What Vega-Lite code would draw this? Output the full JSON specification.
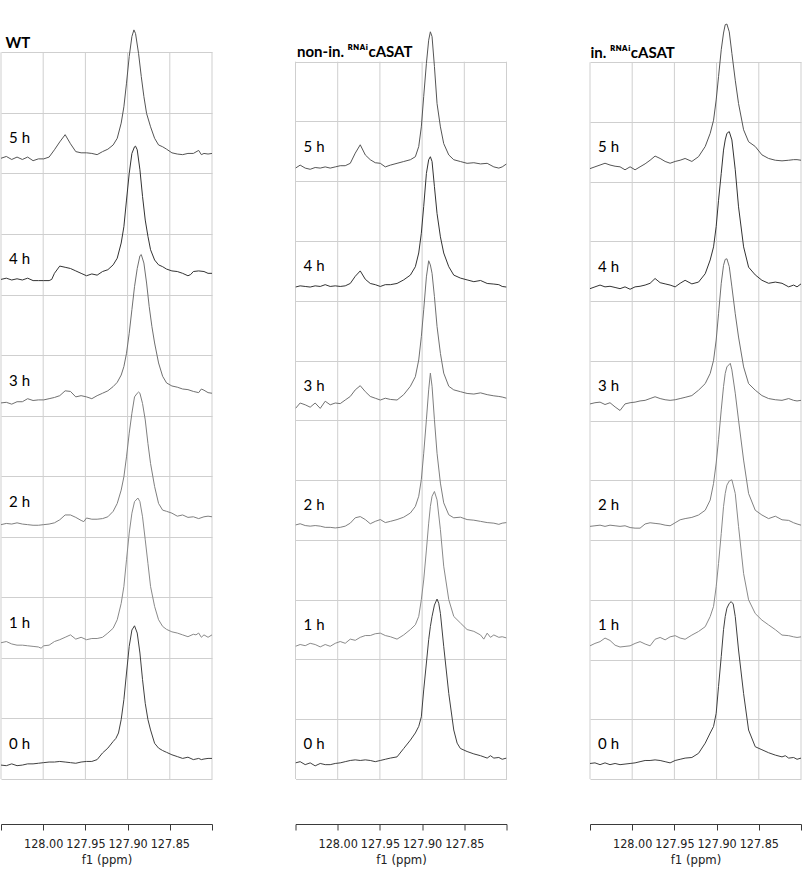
{
"$schema": "https://vega.github.io/schema/vega-lite/v6.json",
"padding": 0,
"background": "white",
"spacing": 83.5,
"bounds": "flush",
"datasets": {
"gridlines": [{"ppm":128.05},{"ppm":128.0},{"ppm":127.95},{"ppm":127.9},{"ppm":127.85},{"ppm":127.8}],
"labels": [{"hour":0,"label":"0 h"},{"hour":1,"label":"1 h"},{"hour":2,"label":"2 h"},{"hour":3,"label":"3 h"},{"hour":4,"label":"4 h"},{"hour":5,"label":"5 h"}],
"WT": [
{"hour":5,"ppm":128.05,"intensity":10.25},{"hour":5,"ppm":128.0437,"intensity":10.28},{"hour":5,"ppm":128.0373,"intensity":10.23},{"hour":5,"ppm":128.031,"intensity":10.27},{"hour":5,"ppm":128.0247,"intensity":10.23},{"hour":5,"ppm":128.0184,"intensity":10.27},{"hour":5,"ppm":128.012,"intensity":10.21},{"hour":5,"ppm":128.0057,"intensity":10.24},{"hour":5,"ppm":127.9994,"intensity":10.24},{"hour":5,"ppm":127.993,"intensity":10.27},{"hour":5,"ppm":127.9867,"intensity":10.39},{"hour":5,"ppm":127.9804,"intensity":10.52},{"hour":5,"ppm":127.974,"intensity":10.64},{"hour":5,"ppm":127.9677,"intensity":10.49},{"hour":5,"ppm":127.9614,"intensity":10.36},{"hour":5,"ppm":127.9551,"intensity":10.34},{"hour":5,"ppm":127.9487,"intensity":10.34},{"hour":5,"ppm":127.9424,"intensity":10.33},{"hour":5,"ppm":127.9361,"intensity":10.31},{"hour":5,"ppm":127.9297,"intensity":10.36},{"hour":5,"ppm":127.9234,"intensity":10.4},{"hour":5,"ppm":127.9171,"intensity":10.47},{"hour":5,"ppm":127.9123,"intensity":10.58},{"hour":5,"ppm":127.9076,"intensity":10.83},{"hour":5,"ppm":127.9044,"intensity":11.1},{"hour":5,"ppm":127.9013,"intensity":11.49},{"hour":5,"ppm":127.8981,"intensity":11.93},{"hour":5,"ppm":127.8949,"intensity":12.26},{"hour":5,"ppm":127.8925,"intensity":12.37},{"hour":5,"ppm":127.8906,"intensity":12.31},{"hour":5,"ppm":127.887,"intensity":11.98},{"hour":5,"ppm":127.8838,"intensity":11.6},{"hour":5,"ppm":127.8807,"intensity":11.27},{"hour":5,"ppm":127.8775,"intensity":10.99},{"hour":5,"ppm":127.8728,"intensity":10.77},{"hour":5,"ppm":127.868,"intensity":10.58},{"hour":5,"ppm":127.8633,"intensity":10.47},{"hour":5,"ppm":127.8585,"intensity":10.44},{"hour":5,"ppm":127.8538,"intensity":10.4},{"hour":5,"ppm":127.8475,"intensity":10.34},{"hour":5,"ppm":127.8411,"intensity":10.32},{"hour":5,"ppm":127.8348,"intensity":10.31},{"hour":5,"ppm":127.8285,"intensity":10.33},{"hour":5,"ppm":127.8221,"intensity":10.33},{"hour":5,"ppm":127.8158,"intensity":10.38},{"hour":5,"ppm":127.8126,"intensity":10.31},{"hour":5,"ppm":127.8095,"intensity":10.33},{"hour":5,"ppm":127.8047,"intensity":10.32},{"hour":5,"ppm":127.8,"intensity":10.33},
{"hour":4,"ppm":128.05,"intensity":8.25},{"hour":4,"ppm":128.0437,"intensity":8.27},{"hour":4,"ppm":128.0373,"intensity":8.24},{"hour":4,"ppm":128.031,"intensity":8.26},{"hour":4,"ppm":128.0247,"intensity":8.24},{"hour":4,"ppm":128.0184,"intensity":8.27},{"hour":4,"ppm":128.012,"intensity":8.23},{"hour":4,"ppm":128.0057,"intensity":8.23},{"hour":4,"ppm":127.9994,"intensity":8.23},{"hour":4,"ppm":127.993,"intensity":8.23},{"hour":4,"ppm":127.9899,"intensity":8.25},{"hour":4,"ppm":127.9867,"intensity":8.35},{"hour":4,"ppm":127.9804,"intensity":8.47},{"hour":4,"ppm":127.974,"intensity":8.45},{"hour":4,"ppm":127.9677,"intensity":8.43},{"hour":4,"ppm":127.9614,"intensity":8.39},{"hour":4,"ppm":127.9551,"intensity":8.35},{"hour":4,"ppm":127.9487,"intensity":8.31},{"hour":4,"ppm":127.9424,"intensity":8.34},{"hour":4,"ppm":127.9361,"intensity":8.32},{"hour":4,"ppm":127.9297,"intensity":8.38},{"hour":4,"ppm":127.9234,"intensity":8.41},{"hour":4,"ppm":127.9171,"intensity":8.49},{"hour":4,"ppm":127.9123,"intensity":8.6},{"hour":4,"ppm":127.9076,"intensity":8.85},{"hour":4,"ppm":127.9044,"intensity":9.12},{"hour":4,"ppm":127.9013,"intensity":9.56},{"hour":4,"ppm":127.8981,"intensity":10.0},{"hour":4,"ppm":127.8949,"intensity":10.33},{"hour":4,"ppm":127.8918,"intensity":10.44},{"hour":4,"ppm":127.8906,"intensity":10.45},{"hour":4,"ppm":127.8886,"intensity":10.39},{"hour":4,"ppm":127.8854,"intensity":10.06},{"hour":4,"ppm":127.8823,"intensity":9.62},{"hour":4,"ppm":127.8791,"intensity":9.23},{"hour":4,"ppm":127.8759,"intensity":8.96},{"hour":4,"ppm":127.8728,"intensity":8.74},{"hour":4,"ppm":127.868,"intensity":8.57},{"hour":4,"ppm":127.8633,"intensity":8.49},{"hour":4,"ppm":127.8585,"intensity":8.46},{"hour":4,"ppm":127.8538,"intensity":8.42},{"hour":4,"ppm":127.8475,"intensity":8.39},{"hour":4,"ppm":127.8411,"intensity":8.38},{"hour":4,"ppm":127.8348,"intensity":8.35},{"hour":4,"ppm":127.8285,"intensity":8.31},{"hour":4,"ppm":127.8253,"intensity":8.33},{"hour":4,"ppm":127.8221,"intensity":8.38},{"hour":4,"ppm":127.8158,"intensity":8.39},{"hour":4,"ppm":127.8095,"intensity":8.38},{"hour":4,"ppm":127.8047,"intensity":8.35},{"hour":4,"ppm":127.8,"intensity":8.35},
{"hour":3,"ppm":128.05,"intensity":6.21},{"hour":3,"ppm":128.0437,"intensity":6.22},{"hour":3,"ppm":128.0373,"intensity":6.19},{"hour":3,"ppm":128.031,"intensity":6.23},{"hour":3,"ppm":128.0247,"intensity":6.23},{"hour":3,"ppm":128.0184,"intensity":6.28},{"hour":3,"ppm":128.012,"intensity":6.25},{"hour":3,"ppm":128.0057,"intensity":6.26},{"hour":3,"ppm":127.9994,"intensity":6.26},{"hour":3,"ppm":127.993,"intensity":6.28},{"hour":3,"ppm":127.9867,"intensity":6.3},{"hour":3,"ppm":127.9804,"intensity":6.33},{"hour":3,"ppm":127.974,"intensity":6.41},{"hour":3,"ppm":127.9677,"intensity":6.4},{"hour":3,"ppm":127.9614,"intensity":6.31},{"hour":3,"ppm":127.9551,"intensity":6.33},{"hour":3,"ppm":127.9487,"intensity":6.31},{"hour":3,"ppm":127.9424,"intensity":6.28},{"hour":3,"ppm":127.9361,"intensity":6.33},{"hour":3,"ppm":127.9297,"intensity":6.37},{"hour":3,"ppm":127.9234,"intensity":6.41},{"hour":3,"ppm":127.9171,"intensity":6.48},{"hour":3,"ppm":127.9123,"intensity":6.55},{"hour":3,"ppm":127.9076,"intensity":6.67},{"hour":3,"ppm":127.9044,"intensity":6.81},{"hour":3,"ppm":127.9013,"intensity":7.03},{"hour":3,"ppm":127.8981,"intensity":7.36},{"hour":3,"ppm":127.8949,"intensity":7.75},{"hour":3,"ppm":127.8918,"intensity":8.13},{"hour":3,"ppm":127.8886,"intensity":8.43},{"hour":3,"ppm":127.8854,"intensity":8.64},{"hour":3,"ppm":127.8838,"intensity":8.66},{"hour":3,"ppm":127.8807,"intensity":8.52},{"hour":3,"ppm":127.8775,"intensity":8.19},{"hour":3,"ppm":127.8744,"intensity":7.8},{"hour":3,"ppm":127.8712,"intensity":7.47},{"hour":3,"ppm":127.868,"intensity":7.2},{"hour":3,"ppm":127.8633,"intensity":6.87},{"hour":3,"ppm":127.8585,"intensity":6.65},{"hour":3,"ppm":127.8538,"intensity":6.54},{"hour":3,"ppm":127.8475,"intensity":6.49},{"hour":3,"ppm":127.8411,"intensity":6.47},{"hour":3,"ppm":127.8348,"intensity":6.44},{"hour":3,"ppm":127.8285,"intensity":6.43},{"hour":3,"ppm":127.8221,"intensity":6.4},{"hour":3,"ppm":127.8158,"intensity":6.38},{"hour":3,"ppm":127.8126,"intensity":6.44},{"hour":3,"ppm":127.8095,"intensity":6.42},{"hour":3,"ppm":127.8047,"intensity":6.38},{"hour":3,"ppm":127.8,"intensity":6.37},
{"hour":2,"ppm":128.05,"intensity":4.2},{"hour":2,"ppm":128.0437,"intensity":4.22},{"hour":2,"ppm":128.0373,"intensity":4.21},{"hour":2,"ppm":128.031,"intensity":4.23},{"hour":2,"ppm":128.0247,"intensity":4.21},{"hour":2,"ppm":128.0184,"intensity":4.2},{"hour":2,"ppm":128.012,"intensity":4.19},{"hour":2,"ppm":128.0057,"intensity":4.19},{"hour":2,"ppm":127.9994,"intensity":4.2},{"hour":2,"ppm":127.993,"intensity":4.21},{"hour":2,"ppm":127.9867,"intensity":4.23},{"hour":2,"ppm":127.9804,"intensity":4.28},{"hour":2,"ppm":127.974,"intensity":4.36},{"hour":2,"ppm":127.9677,"intensity":4.36},{"hour":2,"ppm":127.9614,"intensity":4.32},{"hour":2,"ppm":127.9551,"intensity":4.27},{"hour":2,"ppm":127.9519,"intensity":4.25},{"hour":2,"ppm":127.9487,"intensity":4.31},{"hour":2,"ppm":127.9424,"intensity":4.29},{"hour":2,"ppm":127.9361,"intensity":4.29},{"hour":2,"ppm":127.9297,"intensity":4.3},{"hour":2,"ppm":127.9234,"intensity":4.33},{"hour":2,"ppm":127.9171,"intensity":4.42},{"hour":2,"ppm":127.9123,"intensity":4.55},{"hour":2,"ppm":127.9076,"intensity":4.77},{"hour":2,"ppm":127.9044,"intensity":4.99},{"hour":2,"ppm":127.9013,"intensity":5.32},{"hour":2,"ppm":127.8981,"intensity":5.71},{"hour":2,"ppm":127.8949,"intensity":6.04},{"hour":2,"ppm":127.8918,"intensity":6.31},{"hour":2,"ppm":127.8886,"intensity":6.37},{"hour":2,"ppm":127.887,"intensity":6.39},{"hour":2,"ppm":127.8854,"intensity":6.37},{"hour":2,"ppm":127.8823,"intensity":6.2},{"hour":2,"ppm":127.8791,"intensity":5.93},{"hour":2,"ppm":127.8759,"intensity":5.54},{"hour":2,"ppm":127.8728,"intensity":5.21},{"hour":2,"ppm":127.868,"intensity":4.83},{"hour":2,"ppm":127.8633,"intensity":4.55},{"hour":2,"ppm":127.8585,"intensity":4.44},{"hour":2,"ppm":127.8538,"intensity":4.42},{"hour":2,"ppm":127.8475,"intensity":4.39},{"hour":2,"ppm":127.8411,"intensity":4.34},{"hour":2,"ppm":127.8348,"intensity":4.36},{"hour":2,"ppm":127.8285,"intensity":4.32},{"hour":2,"ppm":127.8221,"intensity":4.33},{"hour":2,"ppm":127.8158,"intensity":4.3},{"hour":2,"ppm":127.8095,"intensity":4.33},{"hour":2,"ppm":127.8047,"intensity":4.34},{"hour":2,"ppm":127.8,"intensity":4.33},
{"hour":1,"ppm":128.05,"intensity":2.25},{"hour":1,"ppm":128.0437,"intensity":2.27},{"hour":1,"ppm":128.0373,"intensity":2.23},{"hour":1,"ppm":128.031,"intensity":2.21},{"hour":1,"ppm":128.0247,"intensity":2.21},{"hour":1,"ppm":128.0184,"intensity":2.2},{"hour":1,"ppm":128.012,"intensity":2.19},{"hour":1,"ppm":128.0057,"intensity":2.18},{"hour":1,"ppm":128.0025,"intensity":2.16},{"hour":1,"ppm":127.9994,"intensity":2.2},{"hour":1,"ppm":127.993,"intensity":2.21},{"hour":1,"ppm":127.9867,"intensity":2.27},{"hour":1,"ppm":127.9804,"intensity":2.3},{"hour":1,"ppm":127.974,"intensity":2.34},{"hour":1,"ppm":127.9677,"intensity":2.38},{"hour":1,"ppm":127.9614,"intensity":2.31},{"hour":1,"ppm":127.9551,"intensity":2.34},{"hour":1,"ppm":127.9487,"intensity":2.3},{"hour":1,"ppm":127.9424,"intensity":2.32},{"hour":1,"ppm":127.9361,"intensity":2.32},{"hour":1,"ppm":127.9297,"intensity":2.34},{"hour":1,"ppm":127.9234,"intensity":2.41},{"hour":1,"ppm":127.9171,"intensity":2.49},{"hour":1,"ppm":127.9123,"intensity":2.63},{"hour":1,"ppm":127.9076,"intensity":2.9},{"hour":1,"ppm":127.9044,"intensity":3.18},{"hour":1,"ppm":127.9013,"intensity":3.62},{"hour":1,"ppm":127.8981,"intensity":4.06},{"hour":1,"ppm":127.8949,"intensity":4.39},{"hour":1,"ppm":127.8918,"intensity":4.58},{"hour":1,"ppm":127.8878,"intensity":4.64},{"hour":1,"ppm":127.8854,"intensity":4.58},{"hour":1,"ppm":127.8823,"intensity":4.33},{"hour":1,"ppm":127.8791,"intensity":3.95},{"hour":1,"ppm":127.8759,"intensity":3.56},{"hour":1,"ppm":127.8728,"intensity":3.18},{"hour":1,"ppm":127.868,"intensity":2.85},{"hour":1,"ppm":127.8633,"intensity":2.63},{"hour":1,"ppm":127.8585,"intensity":2.52},{"hour":1,"ppm":127.8538,"intensity":2.47},{"hour":1,"ppm":127.8475,"intensity":2.43},{"hour":1,"ppm":127.8411,"intensity":2.41},{"hour":1,"ppm":127.8348,"intensity":2.38},{"hour":1,"ppm":127.8285,"intensity":2.35},{"hour":1,"ppm":127.8221,"intensity":2.39},{"hour":1,"ppm":127.819,"intensity":2.38},{"hour":1,"ppm":127.8158,"intensity":2.41},{"hour":1,"ppm":127.8126,"intensity":2.34},{"hour":1,"ppm":127.8095,"intensity":2.38},{"hour":1,"ppm":127.8047,"intensity":2.34},{"hour":1,"ppm":127.8,"intensity":2.38},
{"hour":0,"ppm":128.05,"intensity":0.23},{"hour":0,"ppm":128.0437,"intensity":0.22},{"hour":0,"ppm":128.0373,"intensity":0.25},{"hour":0,"ppm":128.031,"intensity":0.22},{"hour":0,"ppm":128.0247,"intensity":0.23},{"hour":0,"ppm":128.0184,"intensity":0.25},{"hour":0,"ppm":128.012,"intensity":0.25},{"hour":0,"ppm":128.0057,"intensity":0.26},{"hour":0,"ppm":127.9994,"intensity":0.27},{"hour":0,"ppm":127.993,"intensity":0.28},{"hour":0,"ppm":127.9867,"intensity":0.28},{"hour":0,"ppm":127.9804,"intensity":0.29},{"hour":0,"ppm":127.974,"intensity":0.28},{"hour":0,"ppm":127.9677,"intensity":0.27},{"hour":0,"ppm":127.9614,"intensity":0.26},{"hour":0,"ppm":127.9551,"intensity":0.28},{"hour":0,"ppm":127.9487,"intensity":0.29},{"hour":0,"ppm":127.9424,"intensity":0.29},{"hour":0,"ppm":127.9361,"intensity":0.32},{"hour":0,"ppm":127.9297,"intensity":0.43},{"hour":0,"ppm":127.9234,"intensity":0.51},{"hour":0,"ppm":127.9171,"intensity":0.62},{"hour":0,"ppm":127.9139,"intensity":0.67},{"hour":0,"ppm":127.9108,"intensity":0.76},{"hour":0,"ppm":127.9076,"intensity":0.98},{"hour":0,"ppm":127.9044,"intensity":1.31},{"hour":0,"ppm":127.9013,"intensity":1.75},{"hour":0,"ppm":127.8981,"intensity":2.19},{"hour":0,"ppm":127.8949,"intensity":2.46},{"hour":0,"ppm":127.8918,"intensity":2.53},{"hour":0,"ppm":127.8886,"intensity":2.41},{"hour":0,"ppm":127.8854,"intensity":2.08},{"hour":0,"ppm":127.8823,"intensity":1.64},{"hour":0,"ppm":127.8791,"intensity":1.25},{"hour":0,"ppm":127.8759,"intensity":0.98},{"hour":0,"ppm":127.8728,"intensity":0.81},{"hour":0,"ppm":127.868,"intensity":0.59},{"hour":0,"ppm":127.8633,"intensity":0.51},{"hour":0,"ppm":127.8585,"intensity":0.47},{"hour":0,"ppm":127.8538,"intensity":0.44},{"hour":0,"ppm":127.8475,"intensity":0.4},{"hour":0,"ppm":127.8411,"intensity":0.37},{"hour":0,"ppm":127.8348,"intensity":0.34},{"hour":0,"ppm":127.8285,"intensity":0.36},{"hour":0,"ppm":127.8221,"intensity":0.32},{"hour":0,"ppm":127.8158,"intensity":0.34},{"hour":0,"ppm":127.8126,"intensity":0.32},{"hour":0,"ppm":127.8095,"intensity":0.33},{"hour":0,"ppm":127.8047,"intensity":0.34},{"hour":0,"ppm":127.8,"intensity":0.34}
],
"NON": [
{"hour":5,"ppm":128.05,"intensity":10.22},{"hour":5,"ppm":128.0445,"intensity":10.27},{"hour":5,"ppm":128.0385,"intensity":10.22},{"hour":5,"ppm":128.0326,"intensity":10.2},{"hour":5,"ppm":128.0267,"intensity":10.23},{"hour":5,"ppm":128.0207,"intensity":10.22},{"hour":5,"ppm":128.0148,"intensity":10.24},{"hour":5,"ppm":128.0089,"intensity":10.22},{"hour":5,"ppm":128.0029,"intensity":10.24},{"hour":5,"ppm":127.997,"intensity":10.26},{"hour":5,"ppm":127.9911,"intensity":10.26},{"hour":5,"ppm":127.9851,"intensity":10.3},{"hour":5,"ppm":127.9792,"intensity":10.47},{"hour":5,"ppm":127.9733,"intensity":10.61},{"hour":5,"ppm":127.9673,"intensity":10.44},{"hour":5,"ppm":127.9614,"intensity":10.36},{"hour":5,"ppm":127.9555,"intensity":10.31},{"hour":5,"ppm":127.9495,"intensity":10.3},{"hour":5,"ppm":127.9436,"intensity":10.24},{"hour":5,"ppm":127.9376,"intensity":10.27},{"hour":5,"ppm":127.9297,"intensity":10.3},{"hour":5,"ppm":127.9218,"intensity":10.33},{"hour":5,"ppm":127.9139,"intensity":10.36},{"hour":5,"ppm":127.908,"intensity":10.41},{"hour":5,"ppm":127.904,"intensity":10.58},{"hour":5,"ppm":127.9009,"intensity":10.91},{"hour":5,"ppm":127.8981,"intensity":11.42},{"hour":5,"ppm":127.8949,"intensity":11.97},{"hour":5,"ppm":127.8922,"intensity":12.36},{"hour":5,"ppm":127.8902,"intensity":12.5},{"hour":5,"ppm":127.8882,"intensity":12.42},{"hour":5,"ppm":127.8854,"intensity":11.92},{"hour":5,"ppm":127.8823,"intensity":11.3},{"hour":5,"ppm":127.8783,"intensity":10.91},{"hour":5,"ppm":127.8744,"intensity":10.63},{"hour":5,"ppm":127.8684,"intensity":10.44},{"hour":5,"ppm":127.8625,"intensity":10.36},{"hour":5,"ppm":127.8546,"intensity":10.33},{"hour":5,"ppm":127.8467,"intensity":10.3},{"hour":5,"ppm":127.8387,"intensity":10.31},{"hour":5,"ppm":127.8308,"intensity":10.29},{"hour":5,"ppm":127.8229,"intensity":10.3},{"hour":5,"ppm":127.815,"intensity":10.24},{"hour":5,"ppm":127.8091,"intensity":10.22},{"hour":5,"ppm":127.8051,"intensity":10.24},{"hour":5,"ppm":127.8,"intensity":10.29},
{"hour":4,"ppm":128.05,"intensity":8.23},{"hour":4,"ppm":128.0445,"intensity":8.25},{"hour":4,"ppm":128.0385,"intensity":8.24},{"hour":4,"ppm":128.0326,"intensity":8.23},{"hour":4,"ppm":128.0267,"intensity":8.25},{"hour":4,"ppm":128.0207,"intensity":8.24},{"hour":4,"ppm":128.0148,"intensity":8.27},{"hour":4,"ppm":128.0089,"intensity":8.24},{"hour":4,"ppm":128.0029,"intensity":8.25},{"hour":4,"ppm":127.997,"intensity":8.24},{"hour":4,"ppm":127.9911,"intensity":8.25},{"hour":4,"ppm":127.9851,"intensity":8.29},{"hour":4,"ppm":127.9792,"intensity":8.41},{"hour":4,"ppm":127.9733,"intensity":8.5},{"hour":4,"ppm":127.9673,"intensity":8.36},{"hour":4,"ppm":127.9614,"intensity":8.29},{"hour":4,"ppm":127.9555,"intensity":8.27},{"hour":4,"ppm":127.9495,"intensity":8.24},{"hour":4,"ppm":127.9436,"intensity":8.27},{"hour":4,"ppm":127.9376,"intensity":8.27},{"hour":4,"ppm":127.9297,"intensity":8.29},{"hour":4,"ppm":127.9218,"intensity":8.35},{"hour":4,"ppm":127.9139,"intensity":8.43},{"hour":4,"ppm":127.908,"intensity":8.57},{"hour":4,"ppm":127.904,"intensity":8.8},{"hour":4,"ppm":127.9009,"intensity":9.13},{"hour":4,"ppm":127.8981,"intensity":9.58},{"hour":4,"ppm":127.8949,"intensity":10.13},{"hour":4,"ppm":127.8922,"intensity":10.36},{"hour":4,"ppm":127.8902,"intensity":10.41},{"hour":4,"ppm":127.8882,"intensity":10.33},{"hour":4,"ppm":127.8854,"intensity":9.91},{"hour":4,"ppm":127.8823,"intensity":9.46},{"hour":4,"ppm":127.8783,"intensity":9.07},{"hour":4,"ppm":127.8744,"intensity":8.8},{"hour":4,"ppm":127.8684,"intensity":8.57},{"hour":4,"ppm":127.8625,"intensity":8.43},{"hour":4,"ppm":127.8546,"intensity":8.38},{"hour":4,"ppm":127.8467,"intensity":8.35},{"hour":4,"ppm":127.8387,"intensity":8.32},{"hour":4,"ppm":127.8308,"intensity":8.34},{"hour":4,"ppm":127.8229,"intensity":8.29},{"hour":4,"ppm":127.815,"intensity":8.28},{"hour":4,"ppm":127.8091,"intensity":8.27},{"hour":4,"ppm":127.8051,"intensity":8.24},{"hour":4,"ppm":127.8,"intensity":8.23},
{"hour":3,"ppm":128.05,"intensity":6.2},{"hour":3,"ppm":128.0445,"intensity":6.29},{"hour":3,"ppm":128.0385,"intensity":6.26},{"hour":3,"ppm":128.0326,"intensity":6.22},{"hour":3,"ppm":128.0267,"intensity":6.29},{"hour":3,"ppm":128.0207,"intensity":6.2},{"hour":3,"ppm":128.0148,"intensity":6.32},{"hour":3,"ppm":128.0089,"intensity":6.26},{"hour":3,"ppm":128.0029,"intensity":6.29},{"hour":3,"ppm":127.997,"intensity":6.28},{"hour":3,"ppm":127.9911,"intensity":6.34},{"hour":3,"ppm":127.9851,"intensity":6.4},{"hour":3,"ppm":127.9792,"intensity":6.51},{"hour":3,"ppm":127.9733,"intensity":6.58},{"hour":3,"ppm":127.9673,"intensity":6.48},{"hour":3,"ppm":127.9614,"intensity":6.4},{"hour":3,"ppm":127.9555,"intensity":6.37},{"hour":3,"ppm":127.9495,"intensity":6.34},{"hour":3,"ppm":127.9436,"intensity":6.37},{"hour":3,"ppm":127.9376,"intensity":6.35},{"hour":3,"ppm":127.9297,"intensity":6.34},{"hour":3,"ppm":127.9218,"intensity":6.43},{"hour":3,"ppm":127.9139,"intensity":6.57},{"hour":3,"ppm":127.908,"intensity":6.73},{"hour":3,"ppm":127.904,"intensity":7.01},{"hour":3,"ppm":127.9009,"intensity":7.4},{"hour":3,"ppm":127.8981,"intensity":7.85},{"hour":3,"ppm":127.8949,"intensity":8.4},{"hour":3,"ppm":127.8922,"intensity":8.67},{"hour":3,"ppm":127.8902,"intensity":8.6},{"hour":3,"ppm":127.8882,"intensity":8.46},{"hour":3,"ppm":127.8854,"intensity":8.07},{"hour":3,"ppm":127.8823,"intensity":7.57},{"hour":3,"ppm":127.8783,"intensity":7.12},{"hour":3,"ppm":127.8744,"intensity":6.79},{"hour":3,"ppm":127.8684,"intensity":6.57},{"hour":3,"ppm":127.8625,"intensity":6.51},{"hour":3,"ppm":127.8546,"intensity":6.48},{"hour":3,"ppm":127.8467,"intensity":6.45},{"hour":3,"ppm":127.8387,"intensity":6.44},{"hour":3,"ppm":127.8308,"intensity":6.46},{"hour":3,"ppm":127.8229,"intensity":6.43},{"hour":3,"ppm":127.815,"intensity":6.41},{"hour":3,"ppm":127.8091,"intensity":6.4},{"hour":3,"ppm":127.8051,"intensity":6.39},{"hour":3,"ppm":127.8,"intensity":6.37},
{"hour":2,"ppm":128.05,"intensity":4.25},{"hour":2,"ppm":128.0445,"intensity":4.27},{"hour":2,"ppm":128.0385,"intensity":4.24},{"hour":2,"ppm":128.0326,"intensity":4.23},{"hour":2,"ppm":128.0267,"intensity":4.24},{"hour":2,"ppm":128.0207,"intensity":4.23},{"hour":2,"ppm":128.0148,"intensity":4.21},{"hour":2,"ppm":128.0089,"intensity":4.21},{"hour":2,"ppm":128.0029,"intensity":4.2},{"hour":2,"ppm":127.997,"intensity":4.21},{"hour":2,"ppm":127.9911,"intensity":4.23},{"hour":2,"ppm":127.9851,"intensity":4.28},{"hour":2,"ppm":127.9792,"intensity":4.37},{"hour":2,"ppm":127.9733,"intensity":4.39},{"hour":2,"ppm":127.9673,"intensity":4.34},{"hour":2,"ppm":127.9614,"intensity":4.27},{"hour":2,"ppm":127.9555,"intensity":4.31},{"hour":2,"ppm":127.9495,"intensity":4.34},{"hour":2,"ppm":127.9436,"intensity":4.29},{"hour":2,"ppm":127.9376,"intensity":4.31},{"hour":2,"ppm":127.9297,"intensity":4.34},{"hour":2,"ppm":127.9218,"intensity":4.38},{"hour":2,"ppm":127.9139,"intensity":4.45},{"hour":2,"ppm":127.908,"intensity":4.56},{"hour":2,"ppm":127.904,"intensity":4.73},{"hour":2,"ppm":127.9009,"intensity":5.01},{"hour":2,"ppm":127.8981,"intensity":5.45},{"hour":2,"ppm":127.8949,"intensity":6.01},{"hour":2,"ppm":127.8922,"intensity":6.51},{"hour":2,"ppm":127.8902,"intensity":6.79},{"hour":2,"ppm":127.8882,"intensity":6.57},{"hour":2,"ppm":127.8854,"intensity":6.01},{"hour":2,"ppm":127.8823,"intensity":5.45},{"hour":2,"ppm":127.8783,"intensity":4.95},{"hour":2,"ppm":127.8744,"intensity":4.62},{"hour":2,"ppm":127.8684,"intensity":4.42},{"hour":2,"ppm":127.8625,"intensity":4.37},{"hour":2,"ppm":127.8546,"intensity":4.38},{"hour":2,"ppm":127.8467,"intensity":4.34},{"hour":2,"ppm":127.8387,"intensity":4.33},{"hour":2,"ppm":127.8308,"intensity":4.31},{"hour":2,"ppm":127.8229,"intensity":4.29},{"hour":2,"ppm":127.815,"intensity":4.28},{"hour":2,"ppm":127.8091,"intensity":4.26},{"hour":2,"ppm":127.8051,"intensity":4.28},{"hour":2,"ppm":127.8,"intensity":4.29},
{"hour":1,"ppm":128.05,"intensity":2.22},{"hour":1,"ppm":128.0445,"intensity":2.25},{"hour":1,"ppm":128.0385,"intensity":2.23},{"hour":1,"ppm":128.0326,"intensity":2.27},{"hour":1,"ppm":128.0267,"intensity":2.25},{"hour":1,"ppm":128.0207,"intensity":2.21},{"hour":1,"ppm":128.0148,"intensity":2.25},{"hour":1,"ppm":128.0089,"intensity":2.22},{"hour":1,"ppm":128.0029,"intensity":2.27},{"hour":1,"ppm":127.997,"intensity":2.3},{"hour":1,"ppm":127.9911,"intensity":2.27},{"hour":1,"ppm":127.9851,"intensity":2.34},{"hour":1,"ppm":127.9792,"intensity":2.32},{"hour":1,"ppm":127.9733,"intensity":2.37},{"hour":1,"ppm":127.9673,"intensity":2.4},{"hour":1,"ppm":127.9614,"intensity":2.4},{"hour":1,"ppm":127.9555,"intensity":2.43},{"hour":1,"ppm":127.9495,"intensity":2.44},{"hour":1,"ppm":127.9436,"intensity":2.4},{"hour":1,"ppm":127.9376,"intensity":2.38},{"hour":1,"ppm":127.9297,"intensity":2.34},{"hour":1,"ppm":127.9218,"intensity":2.41},{"hour":1,"ppm":127.9139,"intensity":2.5},{"hour":1,"ppm":127.908,"intensity":2.58},{"hour":1,"ppm":127.904,"intensity":2.72},{"hour":1,"ppm":127.9009,"intensity":3.0},{"hour":1,"ppm":127.8981,"intensity":3.33},{"hour":1,"ppm":127.8949,"intensity":3.83},{"hour":1,"ppm":127.8922,"intensity":4.28},{"hour":1,"ppm":127.8902,"intensity":4.56},{"hour":1,"ppm":127.8882,"intensity":4.73},{"hour":1,"ppm":127.8854,"intensity":4.81},{"hour":1,"ppm":127.8823,"intensity":4.67},{"hour":1,"ppm":127.8783,"intensity":4.17},{"hour":1,"ppm":127.8744,"intensity":3.56},{"hour":1,"ppm":127.8684,"intensity":3.0},{"hour":1,"ppm":127.8625,"intensity":2.72},{"hour":1,"ppm":127.8546,"intensity":2.61},{"hour":1,"ppm":127.8467,"intensity":2.5},{"hour":1,"ppm":127.8387,"intensity":2.47},{"hour":1,"ppm":127.8308,"intensity":2.41},{"hour":1,"ppm":127.8269,"intensity":2.34},{"hour":1,"ppm":127.8229,"intensity":2.44},{"hour":1,"ppm":127.819,"intensity":2.37},{"hour":1,"ppm":127.815,"intensity":2.41},{"hour":1,"ppm":127.8091,"intensity":2.37},{"hour":1,"ppm":127.8051,"intensity":2.38},{"hour":1,"ppm":127.8,"intensity":2.36},
{"hour":0,"ppm":128.05,"intensity":0.27},{"hour":0,"ppm":128.0445,"intensity":0.29},{"hour":0,"ppm":128.0385,"intensity":0.24},{"hour":0,"ppm":128.0326,"intensity":0.27},{"hour":0,"ppm":128.0267,"intensity":0.22},{"hour":0,"ppm":128.0207,"intensity":0.26},{"hour":0,"ppm":128.0148,"intensity":0.24},{"hour":0,"ppm":128.0089,"intensity":0.24},{"hour":0,"ppm":128.0029,"intensity":0.26},{"hour":0,"ppm":127.997,"intensity":0.27},{"hour":0,"ppm":127.9911,"intensity":0.29},{"hour":0,"ppm":127.9851,"intensity":0.31},{"hour":0,"ppm":127.9792,"intensity":0.32},{"hour":0,"ppm":127.9733,"intensity":0.31},{"hour":0,"ppm":127.9673,"intensity":0.32},{"hour":0,"ppm":127.9614,"intensity":0.31},{"hour":0,"ppm":127.9555,"intensity":0.29},{"hour":0,"ppm":127.9495,"intensity":0.31},{"hour":0,"ppm":127.9436,"intensity":0.33},{"hour":0,"ppm":127.9376,"intensity":0.35},{"hour":0,"ppm":127.9297,"intensity":0.37},{"hour":0,"ppm":127.9218,"intensity":0.51},{"hour":0,"ppm":127.9139,"intensity":0.65},{"hour":0,"ppm":127.908,"intensity":0.77},{"hour":0,"ppm":127.904,"intensity":0.88},{"hour":0,"ppm":127.9009,"intensity":1.04},{"hour":0,"ppm":127.8981,"intensity":1.49},{"hour":0,"ppm":127.8949,"intensity":1.94},{"hour":0,"ppm":127.8922,"intensity":2.33},{"hour":0,"ppm":127.8902,"intensity":2.55},{"hour":0,"ppm":127.8882,"intensity":2.72},{"hour":0,"ppm":127.8854,"intensity":2.91},{"hour":0,"ppm":127.8823,"intensity":3.01},{"hour":0,"ppm":127.8803,"intensity":2.94},{"hour":0,"ppm":127.8783,"intensity":2.77},{"hour":0,"ppm":127.8744,"intensity":2.22},{"hour":0,"ppm":127.8684,"intensity":1.43},{"hour":0,"ppm":127.8625,"intensity":0.82},{"hour":0,"ppm":127.8585,"intensity":0.6},{"hour":0,"ppm":127.8546,"intensity":0.51},{"hour":0,"ppm":127.8467,"intensity":0.46},{"hour":0,"ppm":127.8387,"intensity":0.42},{"hour":0,"ppm":127.8308,"intensity":0.39},{"hour":0,"ppm":127.8229,"intensity":0.35},{"hour":0,"ppm":127.819,"intensity":0.39},{"hour":0,"ppm":127.815,"intensity":0.35},{"hour":0,"ppm":127.8091,"intensity":0.36},{"hour":0,"ppm":127.8051,"intensity":0.33},{"hour":0,"ppm":127.8,"intensity":0.35}
],
"IN": [
{"hour":5,"ppm":128.05,"intensity":10.22},{"hour":5,"ppm":128.0441,"intensity":10.25},{"hour":5,"ppm":128.0381,"intensity":10.28},{"hour":5,"ppm":128.0322,"intensity":10.31},{"hour":5,"ppm":128.0263,"intensity":10.28},{"hour":5,"ppm":128.0203,"intensity":10.26},{"hour":5,"ppm":128.0144,"intensity":10.25},{"hour":5,"ppm":128.0085,"intensity":10.2},{"hour":5,"ppm":128.0025,"intensity":10.25},{"hour":5,"ppm":127.9966,"intensity":10.2},{"hour":5,"ppm":127.9907,"intensity":10.25},{"hour":5,"ppm":127.9847,"intensity":10.3},{"hour":5,"ppm":127.9788,"intensity":10.36},{"hour":5,"ppm":127.9729,"intensity":10.43},{"hour":5,"ppm":127.9669,"intensity":10.39},{"hour":5,"ppm":127.961,"intensity":10.34},{"hour":5,"ppm":127.9551,"intensity":10.31},{"hour":5,"ppm":127.9491,"intensity":10.34},{"hour":5,"ppm":127.9432,"intensity":10.36},{"hour":5,"ppm":127.9373,"intensity":10.39},{"hour":5,"ppm":127.9293,"intensity":10.34},{"hour":5,"ppm":127.9214,"intensity":10.42},{"hour":5,"ppm":127.9135,"intensity":10.59},{"hour":5,"ppm":127.9076,"intensity":10.81},{"hour":5,"ppm":127.9036,"intensity":11.03},{"hour":5,"ppm":127.9005,"intensity":11.37},{"hour":5,"ppm":127.8977,"intensity":11.76},{"hour":5,"ppm":127.8945,"intensity":12.21},{"hour":5,"ppm":127.8918,"intensity":12.49},{"hour":5,"ppm":127.8898,"intensity":12.63},{"hour":5,"ppm":127.8878,"intensity":12.64},{"hour":5,"ppm":127.885,"intensity":12.51},{"hour":5,"ppm":127.8819,"intensity":12.15},{"hour":5,"ppm":127.8779,"intensity":11.7},{"hour":5,"ppm":127.874,"intensity":11.31},{"hour":5,"ppm":127.868,"intensity":10.87},{"hour":5,"ppm":127.8621,"intensity":10.67},{"hour":5,"ppm":127.8542,"intensity":10.59},{"hour":5,"ppm":127.8463,"intensity":10.45},{"hour":5,"ppm":127.8384,"intensity":10.39},{"hour":5,"ppm":127.8304,"intensity":10.36},{"hour":5,"ppm":127.8225,"intensity":10.35},{"hour":5,"ppm":127.8146,"intensity":10.36},{"hour":5,"ppm":127.8087,"intensity":10.37},{"hour":5,"ppm":127.8047,"intensity":10.37},{"hour":5,"ppm":127.8,"intensity":10.36},
{"hour":4,"ppm":128.05,"intensity":8.21},{"hour":4,"ppm":128.0441,"intensity":8.24},{"hour":4,"ppm":128.0381,"intensity":8.27},{"hour":4,"ppm":128.0322,"intensity":8.24},{"hour":4,"ppm":128.0263,"intensity":8.25},{"hour":4,"ppm":128.0203,"intensity":8.23},{"hour":4,"ppm":128.0144,"intensity":8.21},{"hour":4,"ppm":128.0085,"intensity":8.24},{"hour":4,"ppm":128.0025,"intensity":8.2},{"hour":4,"ppm":127.9966,"intensity":8.24},{"hour":4,"ppm":127.9907,"intensity":8.25},{"hour":4,"ppm":127.9847,"intensity":8.27},{"hour":4,"ppm":127.9788,"intensity":8.3},{"hour":4,"ppm":127.9729,"intensity":8.38},{"hour":4,"ppm":127.9669,"intensity":8.31},{"hour":4,"ppm":127.961,"intensity":8.29},{"hour":4,"ppm":127.9551,"intensity":8.27},{"hour":4,"ppm":127.9491,"intensity":8.24},{"hour":4,"ppm":127.9432,"intensity":8.3},{"hour":4,"ppm":127.9373,"intensity":8.35},{"hour":4,"ppm":127.9293,"intensity":8.29},{"hour":4,"ppm":127.9214,"intensity":8.32},{"hour":4,"ppm":127.9135,"intensity":8.46},{"hour":4,"ppm":127.9076,"intensity":8.69},{"hour":4,"ppm":127.9036,"intensity":8.91},{"hour":4,"ppm":127.9005,"intensity":9.25},{"hour":4,"ppm":127.8977,"intensity":9.69},{"hour":4,"ppm":127.8945,"intensity":10.14},{"hour":4,"ppm":127.8918,"intensity":10.53},{"hour":4,"ppm":127.8898,"intensity":10.7},{"hour":4,"ppm":127.8878,"intensity":10.81},{"hour":4,"ppm":127.885,"intensity":10.84},{"hour":4,"ppm":127.8819,"intensity":10.7},{"hour":4,"ppm":127.8779,"intensity":10.2},{"hour":4,"ppm":127.874,"intensity":9.58},{"hour":4,"ppm":127.868,"intensity":8.91},{"hour":4,"ppm":127.8621,"intensity":8.57},{"hour":4,"ppm":127.8542,"intensity":8.44},{"hour":4,"ppm":127.8463,"intensity":8.35},{"hour":4,"ppm":127.8384,"intensity":8.3},{"hour":4,"ppm":127.8304,"intensity":8.32},{"hour":4,"ppm":127.8225,"intensity":8.3},{"hour":4,"ppm":127.8146,"intensity":8.24},{"hour":4,"ppm":127.8087,"intensity":8.27},{"hour":4,"ppm":127.8047,"intensity":8.24},{"hour":4,"ppm":127.8,"intensity":8.29},
{"hour":3,"ppm":128.05,"intensity":6.28},{"hour":3,"ppm":128.0441,"intensity":6.3},{"hour":3,"ppm":128.0381,"intensity":6.31},{"hour":3,"ppm":128.0322,"intensity":6.27},{"hour":3,"ppm":128.0263,"intensity":6.3},{"hour":3,"ppm":128.0203,"intensity":6.23},{"hour":3,"ppm":128.0144,"intensity":6.17},{"hour":3,"ppm":128.0085,"intensity":6.28},{"hour":3,"ppm":128.0025,"intensity":6.3},{"hour":3,"ppm":127.9966,"intensity":6.31},{"hour":3,"ppm":127.9907,"intensity":6.33},{"hour":3,"ppm":127.9847,"intensity":6.34},{"hour":3,"ppm":127.9788,"intensity":6.37},{"hour":3,"ppm":127.9729,"intensity":6.4},{"hour":3,"ppm":127.9669,"intensity":6.37},{"hour":3,"ppm":127.961,"intensity":6.35},{"hour":3,"ppm":127.9551,"intensity":6.34},{"hour":3,"ppm":127.9491,"intensity":6.35},{"hour":3,"ppm":127.9432,"intensity":6.37},{"hour":3,"ppm":127.9373,"intensity":6.39},{"hour":3,"ppm":127.9293,"intensity":6.42},{"hour":3,"ppm":127.9214,"intensity":6.51},{"hour":3,"ppm":127.9135,"intensity":6.62},{"hour":3,"ppm":127.9076,"intensity":6.79},{"hour":3,"ppm":127.9036,"intensity":7.01},{"hour":3,"ppm":127.9005,"intensity":7.35},{"hour":3,"ppm":127.8977,"intensity":7.79},{"hour":3,"ppm":127.8945,"intensity":8.3},{"hour":3,"ppm":127.8918,"intensity":8.6},{"hour":3,"ppm":127.8898,"intensity":8.7},{"hour":3,"ppm":127.8878,"intensity":8.71},{"hour":3,"ppm":127.885,"intensity":8.58},{"hour":3,"ppm":127.8819,"intensity":8.24},{"hour":3,"ppm":127.8779,"intensity":7.79},{"hour":3,"ppm":127.874,"intensity":7.4},{"hour":3,"ppm":127.868,"intensity":6.9},{"hour":3,"ppm":127.8621,"intensity":6.62},{"hour":3,"ppm":127.8542,"intensity":6.51},{"hour":3,"ppm":127.8463,"intensity":6.42},{"hour":3,"ppm":127.8384,"intensity":6.37},{"hour":3,"ppm":127.8304,"intensity":6.35},{"hour":3,"ppm":127.8225,"intensity":6.34},{"hour":3,"ppm":127.8146,"intensity":6.37},{"hour":3,"ppm":127.8087,"intensity":6.34},{"hour":3,"ppm":127.8047,"intensity":6.33},{"hour":3,"ppm":127.8,"intensity":6.34},
{"hour":2,"ppm":128.05,"intensity":4.23},{"hour":2,"ppm":128.0441,"intensity":4.24},{"hour":2,"ppm":128.0381,"intensity":4.25},{"hour":2,"ppm":128.0322,"intensity":4.23},{"hour":2,"ppm":128.0263,"intensity":4.25},{"hour":2,"ppm":128.0203,"intensity":4.24},{"hour":2,"ppm":128.0144,"intensity":4.23},{"hour":2,"ppm":128.0085,"intensity":4.24},{"hour":2,"ppm":128.0025,"intensity":4.21},{"hour":2,"ppm":127.9966,"intensity":4.2},{"hour":2,"ppm":127.9907,"intensity":4.2},{"hour":2,"ppm":127.9847,"intensity":4.27},{"hour":2,"ppm":127.9788,"intensity":4.29},{"hour":2,"ppm":127.9729,"intensity":4.28},{"hour":2,"ppm":127.9669,"intensity":4.27},{"hour":2,"ppm":127.961,"intensity":4.25},{"hour":2,"ppm":127.9551,"intensity":4.24},{"hour":2,"ppm":127.9491,"intensity":4.29},{"hour":2,"ppm":127.9432,"intensity":4.34},{"hour":2,"ppm":127.9373,"intensity":4.36},{"hour":2,"ppm":127.9293,"intensity":4.38},{"hour":2,"ppm":127.9214,"intensity":4.42},{"hour":2,"ppm":127.9135,"intensity":4.5},{"hour":2,"ppm":127.9076,"intensity":4.67},{"hour":2,"ppm":127.9036,"intensity":4.95},{"hour":2,"ppm":127.9005,"intensity":5.29},{"hour":2,"ppm":127.8977,"intensity":5.68},{"hour":2,"ppm":127.8945,"intensity":6.18},{"hour":2,"ppm":127.8918,"intensity":6.57},{"hour":2,"ppm":127.8898,"intensity":6.79},{"hour":2,"ppm":127.8878,"intensity":6.9},{"hour":2,"ppm":127.8838,"intensity":6.96},{"hour":2,"ppm":127.8819,"intensity":6.85},{"hour":2,"ppm":127.8779,"intensity":6.46},{"hour":2,"ppm":127.874,"intensity":6.01},{"hour":2,"ppm":127.868,"intensity":5.34},{"hour":2,"ppm":127.8621,"intensity":4.78},{"hour":2,"ppm":127.8542,"intensity":4.5},{"hour":2,"ppm":127.8463,"intensity":4.42},{"hour":2,"ppm":127.8384,"intensity":4.36},{"hour":2,"ppm":127.8304,"intensity":4.4},{"hour":2,"ppm":127.8225,"intensity":4.34},{"hour":2,"ppm":127.8146,"intensity":4.33},{"hour":2,"ppm":127.8087,"intensity":4.29},{"hour":2,"ppm":127.8047,"intensity":4.27},{"hour":2,"ppm":127.8,"intensity":4.25},
{"hour":1,"ppm":128.05,"intensity":2.23},{"hour":1,"ppm":128.0441,"intensity":2.27},{"hour":1,"ppm":128.0381,"intensity":2.3},{"hour":1,"ppm":128.0322,"intensity":2.36},{"hour":1,"ppm":128.0263,"intensity":2.32},{"hour":1,"ppm":128.0203,"intensity":2.24},{"hour":1,"ppm":128.0144,"intensity":2.21},{"hour":1,"ppm":128.0085,"intensity":2.22},{"hour":1,"ppm":128.0025,"intensity":2.23},{"hour":1,"ppm":127.9966,"intensity":2.27},{"hour":1,"ppm":127.9907,"intensity":2.3},{"hour":1,"ppm":127.9847,"intensity":2.26},{"hour":1,"ppm":127.9788,"intensity":2.23},{"hour":1,"ppm":127.9729,"intensity":2.34},{"hour":1,"ppm":127.9669,"intensity":2.37},{"hour":1,"ppm":127.961,"intensity":2.33},{"hour":1,"ppm":127.9551,"intensity":2.38},{"hour":1,"ppm":127.9491,"intensity":2.4},{"hour":1,"ppm":127.9432,"intensity":2.36},{"hour":1,"ppm":127.9373,"intensity":2.34},{"hour":1,"ppm":127.9293,"intensity":2.41},{"hour":1,"ppm":127.9214,"intensity":2.47},{"hour":1,"ppm":127.9135,"intensity":2.55},{"hour":1,"ppm":127.9076,"intensity":2.72},{"hour":1,"ppm":127.9036,"intensity":2.89},{"hour":1,"ppm":127.9005,"intensity":3.22},{"hour":1,"ppm":127.8977,"intensity":3.61},{"hour":1,"ppm":127.8945,"intensity":4.11},{"hour":1,"ppm":127.8918,"intensity":4.56},{"hour":1,"ppm":127.8898,"intensity":4.78},{"hour":1,"ppm":127.8878,"intensity":4.92},{"hour":1,"ppm":127.885,"intensity":4.99},{"hour":1,"ppm":127.8819,"intensity":5.01},{"hour":1,"ppm":127.8779,"intensity":4.78},{"hour":1,"ppm":127.874,"intensity":4.23},{"hour":1,"ppm":127.868,"intensity":3.44},{"hour":1,"ppm":127.8621,"intensity":3.0},{"hour":1,"ppm":127.8542,"intensity":2.77},{"hour":1,"ppm":127.8463,"intensity":2.66},{"hour":1,"ppm":127.8384,"intensity":2.58},{"hour":1,"ppm":127.8304,"intensity":2.5},{"hour":1,"ppm":127.8225,"intensity":2.41},{"hour":1,"ppm":127.8146,"intensity":2.4},{"hour":1,"ppm":127.8087,"intensity":2.38},{"hour":1,"ppm":127.8047,"intensity":2.37},{"hour":1,"ppm":127.8,"intensity":2.38},
{"hour":0,"ppm":128.05,"intensity":0.26},{"hour":0,"ppm":128.0441,"intensity":0.27},{"hour":0,"ppm":128.0381,"intensity":0.24},{"hour":0,"ppm":128.0322,"intensity":0.27},{"hour":0,"ppm":128.0263,"intensity":0.24},{"hour":0,"ppm":128.0203,"intensity":0.26},{"hour":0,"ppm":128.0144,"intensity":0.24},{"hour":0,"ppm":128.0085,"intensity":0.25},{"hour":0,"ppm":128.0025,"intensity":0.26},{"hour":0,"ppm":127.9966,"intensity":0.27},{"hour":0,"ppm":127.9907,"intensity":0.29},{"hour":0,"ppm":127.9847,"intensity":0.31},{"hour":0,"ppm":127.9788,"intensity":0.31},{"hour":0,"ppm":127.9729,"intensity":0.32},{"hour":0,"ppm":127.9669,"intensity":0.31},{"hour":0,"ppm":127.961,"intensity":0.29},{"hour":0,"ppm":127.9551,"intensity":0.27},{"hour":0,"ppm":127.9491,"intensity":0.31},{"hour":0,"ppm":127.9432,"intensity":0.33},{"hour":0,"ppm":127.9373,"intensity":0.35},{"hour":0,"ppm":127.9293,"intensity":0.36},{"hour":0,"ppm":127.9214,"intensity":0.43},{"hour":0,"ppm":127.9135,"intensity":0.6},{"hour":0,"ppm":127.9076,"intensity":0.77},{"hour":0,"ppm":127.9036,"intensity":0.88},{"hour":0,"ppm":127.9005,"intensity":1.1},{"hour":0,"ppm":127.8977,"intensity":1.55},{"hour":0,"ppm":127.8945,"intensity":2.05},{"hour":0,"ppm":127.8918,"intensity":2.5},{"hour":0,"ppm":127.8898,"intensity":2.72},{"hour":0,"ppm":127.8878,"intensity":2.86},{"hour":0,"ppm":127.885,"intensity":2.94},{"hour":0,"ppm":127.8827,"intensity":2.97},{"hour":0,"ppm":127.8803,"intensity":2.93},{"hour":0,"ppm":127.8779,"intensity":2.72},{"hour":0,"ppm":127.874,"intensity":2.16},{"hour":0,"ppm":127.868,"intensity":1.43},{"hour":0,"ppm":127.8621,"intensity":0.82},{"hour":0,"ppm":127.8542,"intensity":0.54},{"hour":0,"ppm":127.8463,"intensity":0.49},{"hour":0,"ppm":127.8384,"intensity":0.44},{"hour":0,"ppm":127.8304,"intensity":0.4},{"hour":0,"ppm":127.8225,"intensity":0.37},{"hour":0,"ppm":127.8186,"intensity":0.39},{"hour":0,"ppm":127.8146,"intensity":0.35},{"hour":0,"ppm":127.8087,"intensity":0.36},{"hour":0,"ppm":127.8047,"intensity":0.33},{"hour":0,"ppm":127.8,"intensity":0.35}
]
},
"hconcat": [
{
"width": 211, "height": 779,
"title": {"text": "WT", "anchor": "start", "dx": 5, "offset": -63.1, "baseline": "alphabetic", "font": "Lato", "fontSize": 15, "fontWeight": "bold", "color": "#000000"},
"layer": [
{"data": {"name": "gridlines"}, "mark": {"type": "rule", "color": "#cfcfcf", "strokeWidth": 1},
"encoding": {
"x": {"field": "ppm", "type": "quantitative"},
"y": {"datum": 0, "type": "quantitative", "scale": {"domain": [0, 12], "range": [779, 52.3], "nice": false, "zero": false}, "axis": null},
"y2": {"datum": 12}
}},
{"data": {"name": "WT"}, "mark": {"type": "line", "strokeWidth": 1, "clip": true},
"encoding": {
"x": {"field": "ppm", "type": "quantitative", "scale": {"domain": [127.8, 128.05], "reverse": true, "nice": false, "zero": false},
"axis": {"values": [128.05, 128.025, 128.0, 127.975, 127.95, 127.925, 127.9, 127.875, 127.85, 127.825, 127.8], "labelExpr": "abs(datum.value*20 - round(datum.value*20)) < 0.01 && datum.value < 128.04 && datum.value > 127.81 ? format(datum.value, '.2f') : ''", "tickSize": {"condition": {"test": "abs(datum.value*20 - round(datum.value*20)) < 0.01", "value": 6}, "value": 4}, "grid": false, "offset": 45, "title": "f1 (ppm)", "labelOverlap": false, "labelFlush": false, "labelPadding": 7, "titlePadding": 4}},
"y": {"field": "intensity", "type": "quantitative", "scale": {"domain": [0, 12], "range": [779, 52.3], "nice": false, "zero": false},
"axis": {"values": [0,1,2,3,4,5,6,7,8,9,10,11,12], "grid": true, "labels": false, "ticks": false, "domain": false, "title": null}},
"color": {"field": "hour", "type": "nominal", "scale": {"domain": [0,1,2,3,4,5], "range": ["#404040", "#8a8a8a", "#7f7f7f", "#707070", "#333333", "#555555"]}, "legend": null}
}},
{"data": {"name": "labels"}, "mark": {"type": "text", "align": "left", "baseline": "middle", "font": "Lato", "fontSize": 15, "color": "#000000"},
"encoding": {
"x": {"datum": 128.0404, "type": "quantitative"},
"y": {"field": "hour", "type": "quantitative", "scale": {"domain": [-0.29, 5.71], "range": [779, 52.3], "nice": false, "zero": false}, "axis": null},
"text": {"field": "label"}
}}
],
"resolve": {"scale": {"y": "independent"}}
},
{
"width": 211, "height": 779,
"title": {"text": "non-in. ᴿᴺᴬⁱcASAT", "anchor": "start", "dx": 2, "offset": -72.1, "baseline": "alphabetic", "font": "Lato", "fontSize": 15, "fontWeight": "bold", "color": "#000000"},
"layer": [
{"data": {"name": "gridlines"}, "mark": {"type": "rule", "color": "#cfcfcf", "strokeWidth": 1},
"encoding": {
"x": {"field": "ppm", "type": "quantitative"},
"y": {"datum": 0, "type": "quantitative", "scale": {"domain": [0, 12], "range": [779, 61.7], "nice": false, "zero": false}, "axis": null},
"y2": {"datum": 12}
}},
{"data": {"name": "NON"}, "mark": {"type": "line", "strokeWidth": 1, "clip": true},
"encoding": {
"x": {"field": "ppm", "type": "quantitative", "scale": {"domain": [127.8, 128.05], "reverse": true, "nice": false, "zero": false},
"axis": {"values": [128.05, 128.025, 128.0, 127.975, 127.95, 127.925, 127.9, 127.875, 127.85, 127.825, 127.8], "labelExpr": "abs(datum.value*20 - round(datum.value*20)) < 0.01 && datum.value < 128.04 && datum.value > 127.81 ? format(datum.value, '.2f') : ''", "tickSize": {"condition": {"test": "abs(datum.value*20 - round(datum.value*20)) < 0.01", "value": 6}, "value": 4}, "grid": false, "offset": 45, "title": "f1 (ppm)", "labelOverlap": false, "labelFlush": false, "labelPadding": 7, "titlePadding": 4}},
"y": {"field": "intensity", "type": "quantitative", "scale": {"domain": [0, 12], "range": [779, 61.7], "nice": false, "zero": false},
"axis": {"values": [0,1,2,3,4,5,6,7,8,9,10,11,12], "grid": true, "labels": false, "ticks": false, "domain": false, "title": null}},
"color": {"field": "hour", "type": "nominal", "scale": {"domain": [0,1,2,3,4,5], "range": ["#404040", "#8a8a8a", "#7f7f7f", "#707070", "#333333", "#555555"]}, "legend": null}
}},
{"data": {"name": "labels"}, "mark": {"type": "text", "align": "left", "baseline": "middle", "font": "Lato", "fontSize": 15, "color": "#000000"},
"encoding": {
"x": {"datum": 128.0404, "type": "quantitative"},
"y": {"field": "hour", "type": "quantitative", "scale": {"domain": [-0.29, 5.71], "range": [779, 61.7], "nice": false, "zero": false}, "axis": null},
"text": {"field": "label"}
}}
],
"resolve": {"scale": {"y": "independent"}}
},
{
"width": 211, "height": 779,
"title": {"text": "in. ᴿᴺᴬⁱcASAT", "anchor": "start", "dx": 1, "offset": -73.1, "baseline": "alphabetic", "font": "Lato", "fontSize": 15, "fontWeight": "bold", "color": "#000000"},
"layer": [
{"data": {"name": "gridlines"}, "mark": {"type": "rule", "color": "#cfcfcf", "strokeWidth": 1},
"encoding": {
"x": {"field": "ppm", "type": "quantitative"},
"y": {"datum": 0, "type": "quantitative", "scale": {"domain": [0, 12], "range": [779, 62.3], "nice": false, "zero": false}, "axis": null},
"y2": {"datum": 12}
}},
{"data": {"name": "IN"}, "mark": {"type": "line", "strokeWidth": 1, "clip": true},
"encoding": {
"x": {"field": "ppm", "type": "quantitative", "scale": {"domain": [127.8, 128.05], "reverse": true, "nice": false, "zero": false},
"axis": {"values": [128.05, 128.025, 128.0, 127.975, 127.95, 127.925, 127.9, 127.875, 127.85, 127.825, 127.8], "labelExpr": "abs(datum.value*20 - round(datum.value*20)) < 0.01 && datum.value < 128.04 && datum.value > 127.81 ? format(datum.value, '.2f') : ''", "tickSize": {"condition": {"test": "abs(datum.value*20 - round(datum.value*20)) < 0.01", "value": 6}, "value": 4}, "grid": false, "offset": 45, "title": "f1 (ppm)", "labelOverlap": false, "labelFlush": false, "labelPadding": 7, "titlePadding": 4}},
"y": {"field": "intensity", "type": "quantitative", "scale": {"domain": [0, 12], "range": [779, 62.3], "nice": false, "zero": false},
"axis": {"values": [0,1,2,3,4,5,6,7,8,9,10,11,12], "grid": true, "labels": false, "ticks": false, "domain": false, "title": null}},
"color": {"field": "hour", "type": "nominal", "scale": {"domain": [0,1,2,3,4,5], "range": ["#404040", "#8a8a8a", "#7f7f7f", "#707070", "#333333", "#555555"]}, "legend": null}
}},
{"data": {"name": "labels"}, "mark": {"type": "text", "align": "left", "baseline": "middle", "font": "Lato", "fontSize": 15, "color": "#000000"},
"encoding": {
"x": {"datum": 128.0404, "type": "quantitative"},
"y": {"field": "hour", "type": "quantitative", "scale": {"domain": [-0.29, 5.71], "range": [779, 62.3], "nice": false, "zero": false}, "axis": null},
"text": {"field": "label"}
}}
],
"resolve": {"scale": {"y": "independent"}}
}
],
"config": {
"view": {"stroke": null},
"axis": {"gridColor": "#cfcfcf", "gridWidth": 1, "domainColor": "#3a3a3a", "tickColor": "#3a3a3a", "labelFont": "Liberation Sans Narrow, DejaVu Sans Condensed, sans-serif", "labelFontSize": 12.5, "labelColor": "#222222", "titleFont": "Liberation Sans Narrow, DejaVu Sans Condensed, sans-serif", "titleFontSize": 13, "titleFontWeight": "normal", "titleColor": "#222222"}
}
}
